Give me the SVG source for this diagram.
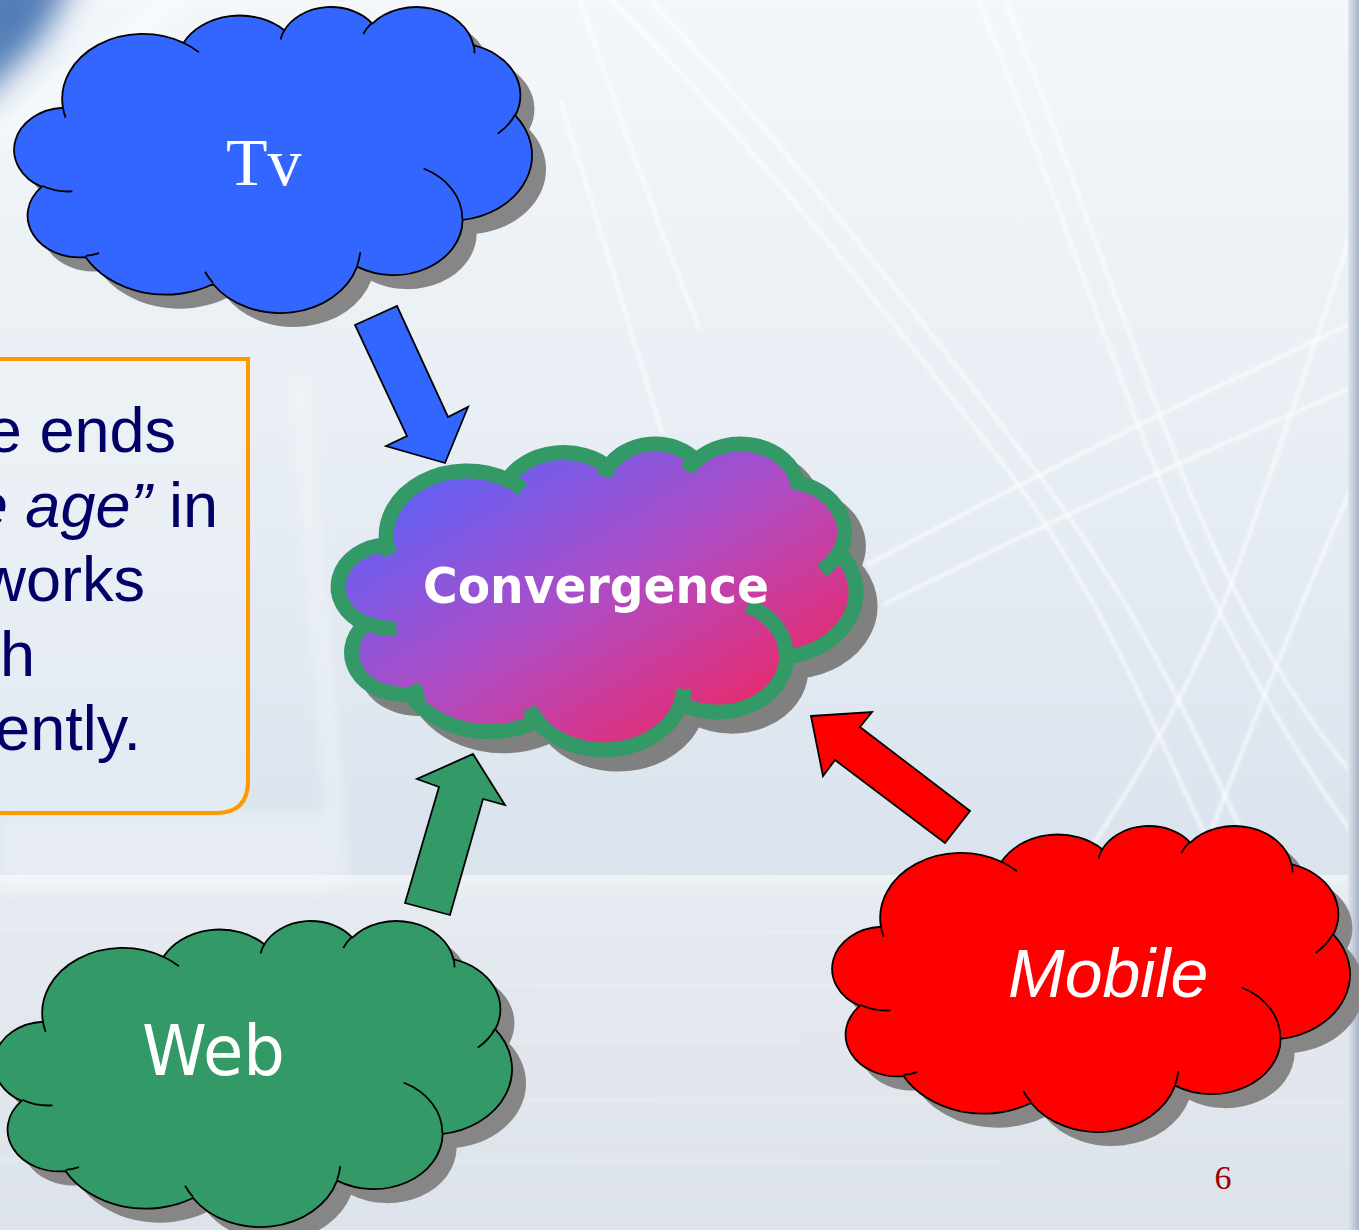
<svg xmlns="http://www.w3.org/2000/svg" xmlns:xlink="http://www.w3.org/1999/xlink" width="1359" height="1230" viewBox="0 0 1359 1230">
<style>
  .shadow { fill: #868686; }
  .outline { stroke: #000000; stroke-width: 1.8; stroke-linejoin: round; }
  .arcs { fill: none; stroke: #000000; stroke-width: 1.8; }
  .arrow { stroke: #000000; stroke-width: 1.8; stroke-linejoin: miter; }
  .label { fill: #ffffff; }
  .body { font-family: "Liberation Sans", Arial, sans-serif; font-size: 63px; fill: #000066; }
  .streak { fill: none; stroke: #ffffff; stroke-width: 4; stroke-opacity: 0.6; }
</style>
<defs>
  <linearGradient id="bg" x1="0" y1="0" x2="0" y2="1">
    <stop offset="0" stop-color="#f4f7fa"/>
    <stop offset="0.35" stop-color="#e8eef4"/>
    <stop offset="0.68" stop-color="#dbe4ee"/>
    <stop offset="1" stop-color="#dbe2ea"/>
  </linearGradient>
  <linearGradient id="sea" x1="0" y1="0" x2="0" y2="1">
    <stop offset="0" stop-color="#eef2f6"/>
    <stop offset="0.08" stop-color="#e5eaf0"/>
    <stop offset="1" stop-color="#dde3ea"/>
  </linearGradient>
  <linearGradient id="edge" x1="0" y1="0" x2="1" y2="0">
    <stop offset="0" stop-color="#dfe6ee"/>
    <stop offset="1" stop-color="#a8b2c1"/>
  </linearGradient>
  <linearGradient id="conv" x1="0" y1="0" x2="1" y2="1">
    <stop offset="0.1" stop-color="#5a62fa"/>
    <stop offset="0.5" stop-color="#b04cc4"/>
    <stop offset="0.9" stop-color="#f2245e"/>
  </linearGradient>
  <filter id="blur2" x="-10%" y="-10%" width="120%" height="120%"><feGaussianBlur stdDeviation="1.6"/></filter>
  <filter id="blur8" x="-50%" y="-50%" width="200%" height="200%"><feGaussianBlur stdDeviation="8"/></filter>
  <filter id="blur16" x="-100%" y="-100%" width="300%" height="300%"><feGaussianBlur stdDeviation="16"/></filter>
  <path id="cloud" d="M46.52,101.75 A80.56,65.07 0 0 1 167.06,36.83 A63.62,51.45 0 0 1 267.90,24.31 A52.07,42.09 0 0 1 355.89,17.57 A57.94,46.70 0 0 1 457.12,39.48 A63.62,51.50 0 0 1 498.87,109.46 A80.82,65.28 0 0 1 446.23,213.87 A69.01,55.70 0 0 1 340.67,260.67 A80.54,65.25 0 0 1 196.62,278.02 A92.09,74.65 0 0 1 69.27,251.17 A52.01,41.90 0 0 1 25.22,180.93 A51.83,42.09 0 0 1 46.52,101.75 Z"/>
  <path id="cloudArcs" d="M55.98,185.35 A51.83,42.09 0 0 1 25.76,179.70 M82.64,247.10 A52.01,41.90 0 0 1 69.42,249.80 M196.57,276.78 A80.54,65.25 0 0 1 188.65,265.70 M343.88,246.05 A80.54,65.25 0 0 1 340.70,259.57 M407.13,162.53 A69.01,55.70 0 0 1 445.91,213.05 M498.61,108.71 A63.62,51.50 0 0 1 481.33,127.66 M457.17,38.42 A57.94,46.70 0 0 1 458.08,47.37 M346.87,27.98 A57.94,46.70 0 0 1 355.72,16.56 M264.12,33.42 A52.07,42.09 0 0 1 268.40,23.58 M167.01,36.76 A80.56,65.07 0 0 1 182.54,46.33 M49.23,111.79 A80.56,65.07 0 0 1 46.52,101.75"/>
</defs>

<!-- background -->
<g id="background">
  <rect x="0" y="0" width="1359" height="1230" fill="url(#bg)"/>
  <rect x="0" y="875" width="1359" height="355" fill="url(#sea)"/>
  <g stroke="#ffffff" stroke-opacity="0.25" stroke-width="2" filter="url(#blur2)">
    <line x1="0" y1="880" x2="1359" y2="878"/>
    <line x1="0" y1="930" x2="900" y2="932"/>
    <line x1="300" y1="985" x2="1359" y2="988"/>
    <line x1="0" y1="1040" x2="800" y2="1042"/>
    <line x1="500" y1="1100" x2="1359" y2="1102"/>
    <line x1="0" y1="1160" x2="1000" y2="1162"/>
  </g>
  <path d="M-30,-30 L80,-30 L40,40 L-30,110 Z" fill="#3f6eb0" opacity="0.9" filter="url(#blur16)"/>
  <path d="M-20,150 L200,-20" stroke="#ffffff" stroke-width="16" stroke-opacity="0.45" filter="url(#blur8)"/>
  <path d="M300,380 Q320,620 340,880" stroke="#ffffff" stroke-width="14" stroke-opacity="0.4" fill="none" filter="url(#blur8)"/>
  <rect x="0" y="815" width="330" height="70" fill="#ffffff" opacity="0.35" filter="url(#blur8)"/>
  <g filter="url(#blur2)">
    <path class="streak" d="M611,0 C760,150 900,330 1000,460 S1150,720 1217,860"/>
    <path class="streak" d="M650,0 C790,150 930,330 1035,470 S1190,720 1255,860"/>
    <path class="streak" d="M978,0 C1040,150 1100,330 1160,480 S1300,760 1350,830"/>
    <path class="streak" d="M1005,0 C1065,150 1125,330 1185,480 S1320,740 1359,780"/>
    <path class="streak" d="M867,565 Q1100,440 1359,320"/>
    <path class="streak" d="M883,605 Q1100,495 1359,385"/>
    <path class="streak" d="M1352,230 Q1290,420 1240,560 T1083,860"/>
    <path class="streak" d="M1359,470 Q1280,650 1200,860"/>
    <path class="streak" d="M560,100 Q610,260 662,433" stroke-opacity="0.45"/>
    <path class="streak" d="M580,0 Q640,180 700,330" stroke-opacity="0.45"/>
  </g>
  <rect x="1348" y="0" width="11" height="1230" fill="url(#edge)"/>
</g>

<!-- text box -->
<g id="textbox">
  <path d="M-10,359 L248,359 L248,781 Q248,813 216,813 L-10,813 Z" fill="#ffffff" fill-opacity="0.2" stroke="#ff9900" stroke-width="4"/>
  <text class="body" x="176" y="452" text-anchor="end">e ends</text>
  <text class="body" x="218" y="527" text-anchor="end"><tspan font-style="italic">e age”</tspan> in</text>
  <text class="body" x="145" y="601" text-anchor="end">works</text>
  <text class="body" x="35" y="676" text-anchor="end">h</text>
  <text class="body" x="141" y="750" text-anchor="end">ently.</text>
</g>

<!-- nodes -->
<g id="tv">
  <g transform="translate(16.4,6)">
    <use xlink:href="#cloud" href="#cloud" class="shadow" transform="translate(14,14)"/>
    <use xlink:href="#cloud" href="#cloud" class="outline" fill="#3366ff"/>
    <use xlink:href="#cloudArcs" href="#cloudArcs" class="arcs"/>
  </g>
  <text class="label" x="226" y="185" font-family="'Liberation Serif', 'Times New Roman', serif" font-size="68">Tv</text>
</g>

<g id="convergence">
  <g transform="translate(340.4,443)">
    <use xlink:href="#cloud" href="#cloud" fill="#808080" stroke="#808080" stroke-width="15" transform="translate(14,14)"/>
    <use xlink:href="#cloud" href="#cloud" fill="url(#conv)" stroke="#339966" stroke-width="15" stroke-linejoin="round"/>
    <use xlink:href="#cloudArcs" href="#cloudArcs" fill="none" stroke="#339966" stroke-width="15"/>
  </g>
  <text class="label" x="423" y="603" font-family="'DejaVu Sans', Verdana, sans-serif" font-weight="bold" font-size="49" textLength="346" lengthAdjust="spacingAndGlyphs">Convergence</text>
</g>

<g id="web">
  <g transform="translate(-3.6,920)">
    <use xlink:href="#cloud" href="#cloud" class="shadow" transform="translate(14,14)"/>
    <use xlink:href="#cloud" href="#cloud" class="outline" fill="#339966"/>
    <use xlink:href="#cloudArcs" href="#cloudArcs" class="arcs"/>
  </g>
  <text class="label" x="142" y="1075" font-family="'DejaVu Sans', sans-serif" font-size="70" textLength="143" lengthAdjust="spacingAndGlyphs">Web</text>
</g>

<g id="mobile">
  <g transform="translate(834.4,825)">
    <use xlink:href="#cloud" href="#cloud" class="shadow" transform="translate(14,14)"/>
    <use xlink:href="#cloud" href="#cloud" class="outline" fill="#ff0000"/>
    <use xlink:href="#cloudArcs" href="#cloudArcs" class="arcs"/>
  </g>
  <text class="label" x="1008" y="997" font-family="'Liberation Sans', Arial, sans-serif" font-style="italic" font-size="68">Mobile</text>
</g>

<!-- connectors -->
<g id="connectors">
  <polygon class="arrow" fill="#3366ff" points="355,325 397,306 448,417 468,407 445,463 386,446 407,436"/>
  <polygon class="arrow" fill="#339966" points="405,903 450,915 483,799 505,805 473,754 417,779 439,787"/>
  <polygon class="arrow" fill="#ff0000" points="811,716 872,712 860,727 970,811 945,843 835,760 823,776"/>
</g>

<text id="page-number" x="1223" y="1189" text-anchor="middle" font-family="'Liberation Serif', 'Times New Roman', serif" font-size="34" fill="#990000">6</text>
</svg>
